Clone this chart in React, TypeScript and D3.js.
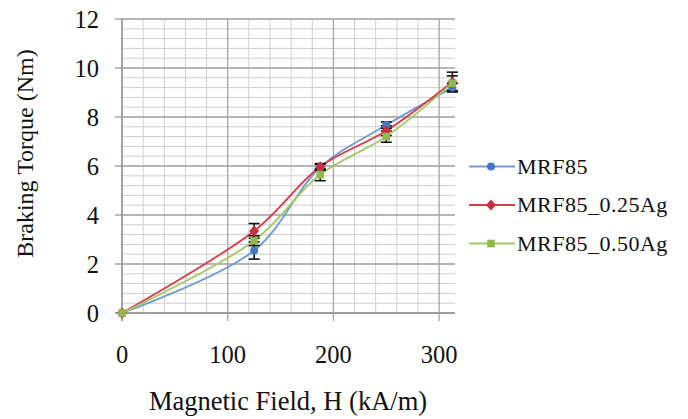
import React from "react";
import * as d3 from "d3";

// Magnetic field strength (kA/m) at each measurement
const fieldValues = [0, 125, 187.5, 250, 312.5];

const seriesNames = ["MRF85", "MRF85_0.25Ag", "MRF85_0.50Ag"];
// Braking torque (Nm) per fluid
const torqueMRF85 = [0, 2.55, 5.95, 7.67, 9.2];
const torqueAg025 = [0, 3.35, 5.97, 7.44, 9.43];
const torqueAg050 = [0, 2.95, 5.65, 7.2, 9.38];
// Standard deviation of torque per fluid
const errMRF85 = [0, 0.35, 0.12, 0.13, 0.17];
const errAg025 = [0, 0.3, 0.13, 0.2, 0.4];
const errAg050 = [0, 0.2, 0.25, 0.23, 0.3];

const xTicks = [0, 100, 200, 300];
const yTicks = [0, 2, 4, 6, 8, 10, 12];

const colors = [
  { line: "#6e9bd6", marker: "#4677c0" },
  { line: "#d93a48", marker: "#c8303f" },
  { line: "#a5c866", marker: "#92b94d" },
];

const FONT = "'Liberation Serif', 'Times New Roman', serif";

export default function App() {
  const width = 688;
  const height = 419;
  const x = d3.scaleLinear().domain([0, 315]).range([122, 455]);
  const y = d3.scaleLinear().domain([0, 12]).range([313, 19]);

  const series = [
    { name: seriesNames[0], values: torqueMRF85, err: errMRF85, shape: "circle" },
    { name: seriesNames[1], values: torqueAg025, err: errAg025, shape: "diamond" },
    { name: seriesNames[2], values: torqueAg050, err: errAg050, shape: "square" },
  ];

  const line = d3
    .line<[number, number]>()
    .x((d) => x(d[0]))
    .y((d) => y(d[1]))
    .curve(d3.curveCatmullRom.alpha(0.5));

  const minorX = d3.range(0, 315.01, 20).filter((v) => v % 100 !== 0);
  const minorY = d3.range(0, 12.001, 0.4).map((v) => +v.toFixed(1));

  const marker = (shape: string, cx: number, cy: number, fill: string, key: string) => {
    if (shape === "circle") return <circle key={key} cx={cx} cy={cy} r={4} fill={fill} />;
    if (shape === "diamond")
      return (
        <path
          key={key}
          d={`M${cx},${cy - 5.5}L${cx + 5},${cy}L${cx},${cy + 5.5}L${cx - 5},${cy}Z`}
          fill={fill}
        />
      );
    return <rect key={key} x={cx - 3.8} y={cy - 3.8} width={7.6} height={7.6} fill={fill} />;
  };

  const legendRows = [173.5, 212, 250.5];

  return (
    <svg
      width={width}
      height={height}
      style={{ position: "absolute", left: 0, top: 0, background: "#fff" }}
      fontFamily={FONT}
    >
      <rect width={width} height={height} fill="#fff" />
      {/* minor grid */}
      {minorY.map((v) => (
        <line key={"my" + v} x1={x(0)} x2={x(315)} y1={y(v)} y2={y(v)} stroke="#d2cdcd" strokeWidth={1} />
      ))}
      {minorX.map((v) => (
        <line key={"mx" + v} x1={x(v)} x2={x(v)} y1={y(0)} y2={y(12)} stroke="#d2cdcd" strokeWidth={1} />
      ))}
      {/* major grid */}
      {yTicks.map((v) => (
        <line key={"gy" + v} x1={x(0) - 7} x2={x(315)} y1={y(v)} y2={y(v)} stroke="#a9a3a3" strokeWidth={1.3} />
      ))}
      {xTicks.map((v) => (
        <line key={"gx" + v} x1={x(v)} x2={x(v)} y1={y(12)} y2={y(0) + 8} stroke="#a9a3a3" strokeWidth={1.3} />
      ))}
      <line x1={x(0)} x2={x(0)} y1={y(12)} y2={y(0) + 8} stroke="#9a9494" strokeWidth={1.4} />
      <line x1={x(0) - 7} x2={x(315)} y1={y(0)} y2={y(0)} stroke="#9a9494" strokeWidth={1.4} />

      {/* tick labels */}
      {yTicks.map((v) => (
        <text key={"ty" + v} x={99} y={y(v) + 8.5} textAnchor="end" fontSize={24.5} fill="#111">
          {v}
        </text>
      ))}
      {xTicks.map((v) => (
        <text key={"tx" + v} x={x(v)} y={363} textAnchor="middle" fontSize={24.5} fill="#111">
          {v}
        </text>
      ))}

      {/* axis titles */}
      <text x={288} y={410} textAnchor="middle" fontSize={26.5} fill="#111">
        Magnetic Field, H (kA/m)
      </text>
      <text transform="translate(33,153.5) rotate(-90)" textAnchor="middle" fontSize={24} fill="#111">
        Braking Torque (Nm)
      </text>

      {/* series */}
      {series.map((s, i) => (
        <path
          key={"l" + i}
          d={line(fieldValues.map((f, j) => [f, s.values[j]] as [number, number])) || ""}
          fill="none"
          stroke={colors[i].line}
          strokeWidth={1.8}
        />
      ))}
      {series.map((s, i) => (
        <g key={"e" + i}>
          {fieldValues.map((f, j) =>
            s.err[j] > 0 ? (
              <g key={j} stroke="#111" strokeWidth={1.6}>
                <line x1={x(f)} x2={x(f)} y1={y(s.values[j] - s.err[j])} y2={y(s.values[j] + s.err[j])} />
                <line x1={x(f) - 5.5} x2={x(f) + 5.5} y1={y(s.values[j] + s.err[j])} y2={y(s.values[j] + s.err[j])} />
                <line x1={x(f) - 5.5} x2={x(f) + 5.5} y1={y(s.values[j] - s.err[j])} y2={y(s.values[j] - s.err[j])} />
              </g>
            ) : null
          )}
        </g>
      ))}
      {series.map((s, i) => (
        <g key={"m" + i}>
          {fieldValues.map((f, j) => marker(s.shape, x(f), y(s.values[j]), colors[i].marker, "p" + j))}
        </g>
      ))}

      {/* legend */}
      {series.map((s, i) => (
        <g key={"lg" + i}>
          <line x1={469} x2={515} y1={legendRows[i] - 7} y2={legendRows[i] - 7} stroke={colors[i].line} strokeWidth={1.8} />
          {marker(s.shape, 491, legendRows[i] - 7, colors[i].marker, "lm" + i)}
          <text x={517} y={legendRows[i]} fontSize={22} letterSpacing={0.5} fill="#111">
            {s.name}
          </text>
        </g>
      ))}
    </svg>
  );
}
